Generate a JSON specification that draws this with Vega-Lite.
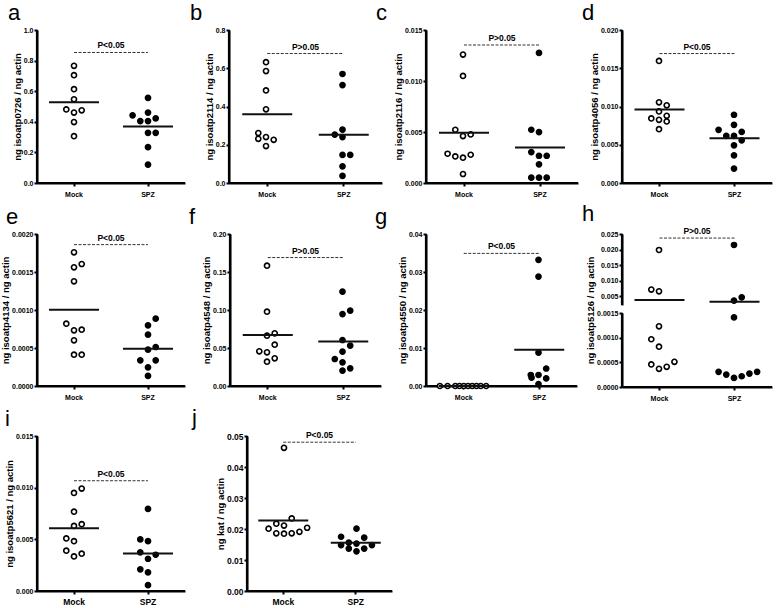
{
"$schema": "https://vega.github.io/schema/vega-lite/v6.json",
"padding": {"left": 0, "top": 2, "right": 2, "bottom": 0},
"datasets": {
"pts": [
{"p":"a","g":"Mock","v":0.766,"c":0},{"p":"a","g":"Mock","v":0.705,"c":0},{"p":"a","g":"Mock","v":0.613,"c":0},{"p":"a","g":"Mock","v":0.547,"c":0},{"p":"a","g":"Mock","v":0.481,"c":-1},{"p":"a","g":"Mock","v":0.475,"c":1},{"p":"a","g":"Mock","v":0.46,"c":0},{"p":"a","g":"Mock","v":0.398,"c":0},{"p":"a","g":"Mock","v":0.306,"c":0},
{"p":"a","g":"SPZ","v":0.556,"c":0},{"p":"a","g":"SPZ","v":0.46,"c":0},{"p":"a","g":"SPZ","v":0.442,"c":-2},{"p":"a","g":"SPZ","v":0.405,"c":-1},{"p":"a","g":"SPZ","v":0.405,"c":0},{"p":"a","g":"SPZ","v":0.422,"c":1},{"p":"a","g":"SPZ","v":0.328,"c":0},{"p":"a","g":"SPZ","v":0.328,"c":1},{"p":"a","g":"SPZ","v":0.234,"c":0},{"p":"a","g":"SPZ","v":0.12,"c":0},
{"p":"b","g":"Mock","v":0.632,"c":0},{"p":"b","g":"Mock","v":0.585,"c":0},{"p":"b","g":"Mock","v":0.484,"c":0},{"p":"b","g":"Mock","v":0.385,"c":0},{"p":"b","g":"Mock","v":0.261,"c":-1},{"p":"b","g":"Mock","v":0.231,"c":-1},{"p":"b","g":"Mock","v":0.24,"c":0},{"p":"b","g":"Mock","v":0.226,"c":1},{"p":"b","g":"Mock","v":0.193,"c":0},
{"p":"b","g":"SPZ","v":0.57,"c":0},{"p":"b","g":"SPZ","v":0.512,"c":0},{"p":"b","g":"SPZ","v":0.279,"c":0},{"p":"b","g":"SPZ","v":0.253,"c":-1},{"p":"b","g":"SPZ","v":0.24,"c":0},{"p":"b","g":"SPZ","v":0.147,"c":0},{"p":"b","g":"SPZ","v":0.147,"c":1},{"p":"b","g":"SPZ","v":0.087,"c":0},{"p":"b","g":"SPZ","v":0.037,"c":0},
{"p":"c","g":"Mock","v":0.01259,"c":0},{"p":"c","g":"Mock","v":0.0105,"c":0},{"p":"c","g":"Mock","v":0.00522,"c":-1},{"p":"c","g":"Mock","v":0.0046,"c":0},{"p":"c","g":"Mock","v":0.00476,"c":1},{"p":"c","g":"Mock","v":0.00287,"c":-2},{"p":"c","g":"Mock","v":0.00261,"c":-1},{"p":"c","g":"Mock","v":0.00248,"c":0},{"p":"c","g":"Mock","v":0.00277,"c":1},{"p":"c","g":"Mock","v":0.00088,"c":0},
{"p":"c","g":"SPZ","v":0.01275,"c":0},{"p":"c","g":"SPZ","v":0.00522,"c":-1},{"p":"c","g":"SPZ","v":0.00499,"c":0},{"p":"c","g":"SPZ","v":0.00303,"c":-1},{"p":"c","g":"SPZ","v":0.00267,"c":0},{"p":"c","g":"SPZ","v":0.00267,"c":1},{"p":"c","g":"SPZ","v":0.00183,"c":0},{"p":"c","g":"SPZ","v":0.00052,"c":-1},{"p":"c","g":"SPZ","v":0.00052,"c":0},{"p":"c","g":"SPZ","v":0.00052,"c":1},
{"p":"d","g":"Mock","v":0.01596,"c":0},{"p":"d","g":"Mock","v":0.01055,"c":0},{"p":"d","g":"Mock","v":0.01015,"c":1},{"p":"d","g":"Mock","v":0.00936,"c":0},{"p":"d","g":"Mock","v":0.00844,"c":-1},{"p":"d","g":"Mock","v":0.00826,"c":0},{"p":"d","g":"Mock","v":0.00879,"c":1},{"p":"d","g":"Mock","v":0.00804,"c":1},{"p":"d","g":"Mock","v":0.00703,"c":0},
{"p":"d","g":"SPZ","v":0.00892,"c":0},{"p":"d","g":"SPZ","v":0.0076,"c":0},{"p":"d","g":"SPZ","v":0.00695,"c":-2},{"p":"d","g":"SPZ","v":0.00615,"c":-1},{"p":"d","g":"SPZ","v":0.00615,"c":0},{"p":"d","g":"SPZ","v":0.00668,"c":1},{"p":"d","g":"SPZ","v":0.00558,"c":1},{"p":"d","g":"SPZ","v":0.00492,"c":0},{"p":"d","g":"SPZ","v":0.0036,"c":0},{"p":"d","g":"SPZ","v":0.00189,"c":0},
{"p":"e","g":"Mock","v":0.001759,"c":0},{"p":"e","g":"Mock","v":0.001561,"c":0},{"p":"e","g":"Mock","v":0.001605,"c":1},{"p":"e","g":"Mock","v":0.001377,"c":0},{"p":"e","g":"Mock","v":0.00082,"c":-1},{"p":"e","g":"Mock","v":0.000732,"c":0},{"p":"e","g":"Mock","v":0.000741,"c":1},{"p":"e","g":"Mock","v":0.000601,"c":0},{"p":"e","g":"Mock","v":0.000412,"c":0},{"p":"e","g":"Mock","v":0.000412,"c":1},
{"p":"e","g":"SPZ","v":0.000886,"c":1},{"p":"e","g":"SPZ","v":0.000798,"c":0},{"p":"e","g":"SPZ","v":0.000675,"c":0},{"p":"e","g":"SPZ","v":0.000513,"c":1},{"p":"e","g":"SPZ","v":0.000478,"c":0},{"p":"e","g":"SPZ","v":0.000338,"c":-1},{"p":"e","g":"SPZ","v":0.000338,"c":1},{"p":"e","g":"SPZ","v":0.000246,"c":0},{"p":"e","g":"SPZ","v":0.000132,"c":0},
{"p":"f","g":"Mock","v":0.1583,"c":0},{"p":"f","g":"Mock","v":0.0978,"c":0},{"p":"f","g":"Mock","v":0.0662,"c":0},{"p":"f","g":"Mock","v":0.0693,"c":1},{"p":"f","g":"Mock","v":0.0544,"c":1},{"p":"f","g":"Mock","v":0.0456,"c":-1},{"p":"f","g":"Mock","v":0.0443,"c":0},{"p":"f","g":"Mock","v":0.0364,"c":1},{"p":"f","g":"Mock","v":0.032,"c":0},
{"p":"f","g":"SPZ","v":0.1241,"c":0},{"p":"f","g":"SPZ","v":0.0947,"c":0},{"p":"f","g":"SPZ","v":0.0991,"c":1},{"p":"f","g":"SPZ","v":0.0605,"c":0},{"p":"f","g":"SPZ","v":0.0531,"c":1},{"p":"f","g":"SPZ","v":0.0452,"c":0},{"p":"f","g":"SPZ","v":0.0355,"c":-1},{"p":"f","g":"SPZ","v":0.0311,"c":0},{"p":"f","g":"SPZ","v":0.0202,"c":0},{"p":"f","g":"SPZ","v":0.0232,"c":1},
{"p":"g","g":"Mock","v":0,"c":-3},{"p":"g","g":"Mock","v":0,"c":-2},{"p":"g","g":"Mock","v":0,"c":-1},{"p":"g","g":"Mock","v":0,"c":-0.45},{"p":"g","g":"Mock","v":0,"c":0.1},{"p":"g","g":"Mock","v":0,"c":0.65},{"p":"g","g":"Mock","v":0,"c":1.2},{"p":"g","g":"Mock","v":0,"c":1.75},{"p":"g","g":"Mock","v":0,"c":2.3},{"p":"g","g":"Mock","v":0,"c":3},
{"p":"g","g":"SPZ","v":0.0332,"c":0},{"p":"g","g":"SPZ","v":0.0288,"c":0},{"p":"g","g":"SPZ","v":0.00877,"c":0},{"p":"g","g":"SPZ","v":0.0046,"c":1},{"p":"g","g":"SPZ","v":0.0029,"c":-1},{"p":"g","g":"SPZ","v":0.0022,"c":-0.9},{"p":"g","g":"SPZ","v":0.0029,"c":0},{"p":"g","g":"SPZ","v":0.002,"c":1},{"p":"g","g":"SPZ","v":0.0005,"c":0},
{"p":"h","g":"Mock","v":0.01987,"c":0},{"p":"h","g":"Mock","v":0.00714,"c":-1},{"p":"h","g":"Mock","v":0.0066,"c":0},{"p":"h","g":"Mock","v":0.00123,"c":0},{"p":"h","g":"Mock","v":0.000968,"c":-1},{"p":"h","g":"Mock","v":0.000818,"c":0},{"p":"h","g":"Mock","v":0.000457,"c":-1},{"p":"h","g":"Mock","v":0.000368,"c":0},{"p":"h","g":"Mock","v":0.000409,"c":1},{"p":"h","g":"Mock","v":0.000511,"c":2},
{"p":"h","g":"SPZ","v":0.02147,"c":0},{"p":"h","g":"SPZ","v":0.00361,"c":0},{"p":"h","g":"SPZ","v":0.00468,"c":1},{"p":"h","g":"SPZ","v":0.00141,"c":0},{"p":"h","g":"SPZ","v":0.000307,"c":-2},{"p":"h","g":"SPZ","v":0.000252,"c":-1},{"p":"h","g":"SPZ","v":0.000184,"c":0},{"p":"h","g":"SPZ","v":0.000218,"c":1},{"p":"h","g":"SPZ","v":0.000273,"c":2},{"p":"h","g":"SPZ","v":0.000307,"c":3},
{"p":"i","g":"Mock","v":0.00991,"c":1},{"p":"i","g":"Mock","v":0.00949,"c":0},{"p":"i","g":"Mock","v":0.00768,"c":0},{"p":"i","g":"Mock","v":0.0063,"c":0},{"p":"i","g":"Mock","v":0.00647,"c":1},{"p":"i","g":"Mock","v":0.00509,"c":-1},{"p":"i","g":"Mock","v":0.00482,"c":0},{"p":"i","g":"Mock","v":0.0039,"c":-1},{"p":"i","g":"Mock","v":0.00361,"c":1},{"p":"i","g":"Mock","v":0.00335,"c":0},
{"p":"i","g":"SPZ","v":0.00794,"c":0},{"p":"i","g":"SPZ","v":0.00499,"c":-1},{"p":"i","g":"SPZ","v":0.00482,"c":0},{"p":"i","g":"SPZ","v":0.00374,"c":-1},{"p":"i","g":"SPZ","v":0.00351,"c":1},{"p":"i","g":"SPZ","v":0.00312,"c":0},{"p":"i","g":"SPZ","v":0.0021,"c":-1},{"p":"i","g":"SPZ","v":0.0018,"c":0},{"p":"i","g":"SPZ","v":0.00056,"c":0},
{"p":"j","g":"Mock","v":0.0462,"c":0},{"p":"j","g":"Mock","v":0.0234,"c":1},{"p":"j","g":"Mock","v":0.0217,"c":-1},{"p":"j","g":"Mock","v":0.0211,"c":0},{"p":"j","g":"Mock","v":0.0201,"c":-2},{"p":"j","g":"Mock","v":0.0204,"c":3},{"p":"j","g":"Mock","v":0.0186,"c":-1},{"p":"j","g":"Mock","v":0.0185,"c":0},{"p":"j","g":"Mock","v":0.0186,"c":1},{"p":"j","g":"Mock","v":0.0191,"c":2},
{"p":"j","g":"SPZ","v":0.0201,"c":0},{"p":"j","g":"SPZ","v":0.0175,"c":-2},{"p":"j","g":"SPZ","v":0.0172,"c":1},{"p":"j","g":"SPZ","v":0.0156,"c":-1},{"p":"j","g":"SPZ","v":0.0153,"c":0},{"p":"j","g":"SPZ","v":0.0148,"c":-2},{"p":"j","g":"SPZ","v":0.0148,"c":2},{"p":"j","g":"SPZ","v":0.0137,"c":-1},{"p":"j","g":"SPZ","v":0.0137,"c":1},{"p":"j","g":"SPZ","v":0.0128,"c":0}
],
"sig": [
{"p":"a","v":0.853,"t":"P<0.05"},{"p":"b","v":0.677,"t":"P>0.05"},{"p":"c","v":0.01353,"t":"P>0.05"},{"p":"d","v":0.01692,"t":"P<0.05"},{"p":"e","v":0.00186,"t":"P<0.05"},{"p":"f","v":0.169,"t":"P>0.05"},{"p":"g","v":0.0349,"t":"P<0.05"},{"p":"h","v":0.0237,"t":"P>0.05"},{"p":"i","v":0.01067,"t":"P<0.05"},{"p":"j","v":0.048,"t":"P<0.05"}
],
"ax": [
{"p":"a","v":0,"top":1},{"p":"b","v":0,"top":0.8},{"p":"c","v":0,"top":0.015},{"p":"d","v":0,"top":0.02},{"p":"e","v":0,"top":0.002},{"p":"f","v":0,"top":0.2},{"p":"g","v":0,"top":0.04},{"p":"hu","v":0.0022,"top":0.025},{"p":"hl","v":0,"top":0.0015},{"p":"i","v":0,"top":0.015},{"p":"j","v":0,"top":0.05}
]
},
"vconcat": [
{"hconcat": [
{"width":148,"height":153,"title":{"text":"a","dx":-29},
 "encoding":{"x":{"field":"g","type":"nominal","scale":{"domain":["Mock","SPZ"],"paddingInner":0,"paddingOuter":0},"axis":{"title":null}},
  "y":{"field":"v","type":"quantitative","scale":{"domain":[0,1],"nice":false},"axis":{"title":"ng isoatp0726 / ng actin","values":[0,0.2,0.4,0.6,0.8,1],"format":".1f"}}},
 "layer":[
  {"data":{"name":"ax"},"transform":[{"filter":"datum.p=='a'"}],"mark":{"type":"rule","color":"#000000","strokeWidth":2.2},"encoding":{"x":{"datum":"Mock","type":"nominal","bandPosition":0},"y2":{"field":"top"}}},
  {"data":{"name":"ax"},"transform":[{"filter":"datum.p=='a'"}],"mark":{"type":"rule","color":"#000000","strokeWidth":2.2},"encoding":{"x":{"datum":"Mock","type":"nominal","bandPosition":0},"x2":{"datum":"SPZ"}}},
  {"data":{"name":"ax"},"transform":[{"filter":"datum.p=='a'"}],"mark":{"type":"rule","color":"#000000","strokeWidth":2.2},"encoding":{"x":{"datum":"SPZ","type":"nominal","bandPosition":1},"x2":{"datum":"Mock"}}},
  {"data":{"name":"pts"},"transform":[{"filter":"datum.p=='a'"}],"mark":{"type":"circle","size":26,"stroke":"#000000","strokeWidth":1.6,"opacity":1},"encoding":{"xOffset":{"field":"c","type":"quantitative","scale":{"domain":[-4.8,4.8]}},"fill":{"field":"g","type":"nominal","scale":{"domain":["Mock","SPZ"],"range":["#ffffff","#000000"]},"legend":null}}},
  {"data":{"name":"pts"},"transform":[{"filter":"datum.p=='a'"},{"aggregate":[{"op":"mean","field":"v","as":"v"}],"groupby":["g"]}],"mark":{"type":"tick","color":"#111111","thickness":2,"size":50,"opacity":1}},
  {"data":{"name":"sig"},"transform":[{"filter":"datum.p=='a'"}],"mark":{"type":"rule","color":"#333333","strokeDash":[3,1.5],"strokeWidth":1},"encoding":{"x":{"datum":"Mock","type":"nominal"},"x2":{"datum":"SPZ"}}},
  {"data":{"name":"sig"},"transform":[{"filter":"datum.p=='a'"}],"mark":{"type":"text","fontSize":8.5,"fontWeight":"bold","baseline":"bottom","dy":-2,"color":"#000000"},"encoding":{"x":{"datum":"Mock","type":"nominal","bandPosition":1},"text":{"field":"t","type":"nominal"}}}
 ]},
{"width":153,"height":153,"title":{"text":"b","dx":-39},
 "encoding":{"x":{"field":"g","type":"nominal","scale":{"domain":["Mock","SPZ"],"paddingInner":0,"paddingOuter":0},"axis":{"title":null}},
  "y":{"field":"v","type":"quantitative","scale":{"domain":[0,0.8],"nice":false},"axis":{"title":"ng isoatp2114 / ng actin","values":[0,0.2,0.4,0.6,0.8],"format":".1f"}}},
 "layer":[
  {"data":{"name":"ax"},"transform":[{"filter":"datum.p=='b'"}],"mark":{"type":"rule","color":"#000000","strokeWidth":2.2},"encoding":{"x":{"datum":"Mock","type":"nominal","bandPosition":0},"y2":{"field":"top"}}},
  {"data":{"name":"ax"},"transform":[{"filter":"datum.p=='b'"}],"mark":{"type":"rule","color":"#000000","strokeWidth":2.2},"encoding":{"x":{"datum":"Mock","type":"nominal","bandPosition":0},"x2":{"datum":"SPZ"}}},
  {"data":{"name":"ax"},"transform":[{"filter":"datum.p=='b'"}],"mark":{"type":"rule","color":"#000000","strokeWidth":2.2},"encoding":{"x":{"datum":"SPZ","type":"nominal","bandPosition":1},"x2":{"datum":"Mock"}}},
  {"data":{"name":"pts"},"transform":[{"filter":"datum.p=='b'"}],"mark":{"type":"circle","size":26,"stroke":"#000000","strokeWidth":1.6,"opacity":1},"encoding":{"xOffset":{"field":"c","type":"quantitative","scale":{"domain":[-4.8,4.8]}},"fill":{"field":"g","type":"nominal","scale":{"domain":["Mock","SPZ"],"range":["#ffffff","#000000"]},"legend":null}}},
  {"data":{"name":"pts"},"transform":[{"filter":"datum.p=='b'"},{"aggregate":[{"op":"mean","field":"v","as":"v"}],"groupby":["g"]}],"mark":{"type":"tick","color":"#111111","thickness":2,"size":50,"opacity":1}},
  {"data":{"name":"sig"},"transform":[{"filter":"datum.p=='b'"}],"mark":{"type":"rule","color":"#333333","strokeDash":[3,1.5],"strokeWidth":1},"encoding":{"x":{"datum":"Mock","type":"nominal"},"x2":{"datum":"SPZ"}}},
  {"data":{"name":"sig"},"transform":[{"filter":"datum.p=='b'"}],"mark":{"type":"text","fontSize":8.5,"fontWeight":"bold","baseline":"bottom","dy":-2,"color":"#000000"},"encoding":{"x":{"datum":"Mock","type":"nominal","bandPosition":1},"text":{"field":"t","type":"nominal"}}}
 ]},
{"width":152,"height":153,"title":{"text":"c","dx":-50},
 "encoding":{"x":{"field":"g","type":"nominal","scale":{"domain":["Mock","SPZ"],"paddingInner":0,"paddingOuter":0},"axis":{"title":null}},
  "y":{"field":"v","type":"quantitative","scale":{"domain":[0,0.015],"nice":false},"axis":{"title":"ng isoatp2116 / ng actin","values":[0,0.005,0.01,0.015],"format":".3f"}}},
 "layer":[
  {"data":{"name":"ax"},"transform":[{"filter":"datum.p=='c'"}],"mark":{"type":"rule","color":"#000000","strokeWidth":2.2},"encoding":{"x":{"datum":"Mock","type":"nominal","bandPosition":0},"y2":{"field":"top"}}},
  {"data":{"name":"ax"},"transform":[{"filter":"datum.p=='c'"}],"mark":{"type":"rule","color":"#000000","strokeWidth":2.2},"encoding":{"x":{"datum":"Mock","type":"nominal","bandPosition":0},"x2":{"datum":"SPZ"}}},
  {"data":{"name":"ax"},"transform":[{"filter":"datum.p=='c'"}],"mark":{"type":"rule","color":"#000000","strokeWidth":2.2},"encoding":{"x":{"datum":"SPZ","type":"nominal","bandPosition":1},"x2":{"datum":"Mock"}}},
  {"data":{"name":"pts"},"transform":[{"filter":"datum.p=='c'"}],"mark":{"type":"circle","size":26,"stroke":"#000000","strokeWidth":1.6,"opacity":1},"encoding":{"xOffset":{"field":"c","type":"quantitative","scale":{"domain":[-4.8,4.8]}},"fill":{"field":"g","type":"nominal","scale":{"domain":["Mock","SPZ"],"range":["#ffffff","#000000"]},"legend":null}}},
  {"data":{"name":"pts"},"transform":[{"filter":"datum.p=='c'"},{"aggregate":[{"op":"mean","field":"v","as":"v"}],"groupby":["g"]}],"mark":{"type":"tick","color":"#111111","thickness":2,"size":50,"opacity":1}},
  {"data":{"name":"sig"},"transform":[{"filter":"datum.p=='c'"}],"mark":{"type":"rule","color":"#333333","strokeDash":[3,1.5],"strokeWidth":1},"encoding":{"x":{"datum":"Mock","type":"nominal"},"x2":{"datum":"SPZ"}}},
  {"data":{"name":"sig"},"transform":[{"filter":"datum.p=='c'"}],"mark":{"type":"text","fontSize":8.5,"fontWeight":"bold","baseline":"bottom","dy":-2,"color":"#000000"},"encoding":{"x":{"datum":"Mock","type":"nominal","bandPosition":1},"text":{"field":"t","type":"nominal"}}}
 ]},
{"width":150,"height":153,"title":{"text":"d","dx":-40},
 "encoding":{"x":{"field":"g","type":"nominal","scale":{"domain":["Mock","SPZ"],"paddingInner":0,"paddingOuter":0},"axis":{"title":null}},
  "y":{"field":"v","type":"quantitative","scale":{"domain":[0,0.02],"nice":false},"axis":{"title":"ng isoatp4056 / ng actin","values":[0,0.005,0.01,0.015,0.02],"format":".3f"}}},
 "layer":[
  {"data":{"name":"ax"},"transform":[{"filter":"datum.p=='d'"}],"mark":{"type":"rule","color":"#000000","strokeWidth":2.2},"encoding":{"x":{"datum":"Mock","type":"nominal","bandPosition":0},"y2":{"field":"top"}}},
  {"data":{"name":"ax"},"transform":[{"filter":"datum.p=='d'"}],"mark":{"type":"rule","color":"#000000","strokeWidth":2.2},"encoding":{"x":{"datum":"Mock","type":"nominal","bandPosition":0},"x2":{"datum":"SPZ"}}},
  {"data":{"name":"ax"},"transform":[{"filter":"datum.p=='d'"}],"mark":{"type":"rule","color":"#000000","strokeWidth":2.2},"encoding":{"x":{"datum":"SPZ","type":"nominal","bandPosition":1},"x2":{"datum":"Mock"}}},
  {"data":{"name":"pts"},"transform":[{"filter":"datum.p=='d'"}],"mark":{"type":"circle","size":26,"stroke":"#000000","strokeWidth":1.6,"opacity":1},"encoding":{"xOffset":{"field":"c","type":"quantitative","scale":{"domain":[-4.8,4.8]}},"fill":{"field":"g","type":"nominal","scale":{"domain":["Mock","SPZ"],"range":["#ffffff","#000000"]},"legend":null}}},
  {"data":{"name":"pts"},"transform":[{"filter":"datum.p=='d'"},{"aggregate":[{"op":"mean","field":"v","as":"v"}],"groupby":["g"]}],"mark":{"type":"tick","color":"#111111","thickness":2,"size":50,"opacity":1}},
  {"data":{"name":"sig"},"transform":[{"filter":"datum.p=='d'"}],"mark":{"type":"rule","color":"#333333","strokeDash":[3,1.5],"strokeWidth":1},"encoding":{"x":{"datum":"Mock","type":"nominal"},"x2":{"datum":"SPZ"}}},
  {"data":{"name":"sig"},"transform":[{"filter":"datum.p=='d'"}],"mark":{"type":"text","fontSize":8.5,"fontWeight":"bold","baseline":"bottom","dy":-2,"color":"#000000"},"encoding":{"x":{"datum":"Mock","type":"nominal","bandPosition":1},"text":{"field":"t","type":"nominal"}}}
 ]}
], "bounds":"flush", "spacing":44},
{"hconcat": [
{"width":148,"height":152,"title":{"text":"e","dx":-31},
 "encoding":{"x":{"field":"g","type":"nominal","scale":{"domain":["Mock","SPZ"],"paddingInner":0,"paddingOuter":0},"axis":{"title":null}},
  "y":{"field":"v","type":"quantitative","scale":{"domain":[0,0.002],"nice":false},"axis":{"title":"ng isoatp4134 / ng actin","values":[0,0.0005,0.001,0.0015,0.002],"format":".4f"}}},
 "layer":[
  {"data":{"name":"ax"},"transform":[{"filter":"datum.p=='e'"}],"mark":{"type":"rule","color":"#000000","strokeWidth":2.2},"encoding":{"x":{"datum":"Mock","type":"nominal","bandPosition":0},"y2":{"field":"top"}}},
  {"data":{"name":"ax"},"transform":[{"filter":"datum.p=='e'"}],"mark":{"type":"rule","color":"#000000","strokeWidth":2.2},"encoding":{"x":{"datum":"Mock","type":"nominal","bandPosition":0},"x2":{"datum":"SPZ"}}},
  {"data":{"name":"ax"},"transform":[{"filter":"datum.p=='e'"}],"mark":{"type":"rule","color":"#000000","strokeWidth":2.2},"encoding":{"x":{"datum":"SPZ","type":"nominal","bandPosition":1},"x2":{"datum":"Mock"}}},
  {"data":{"name":"pts"},"transform":[{"filter":"datum.p=='e'"}],"mark":{"type":"circle","size":26,"stroke":"#000000","strokeWidth":1.6,"opacity":1},"encoding":{"xOffset":{"field":"c","type":"quantitative","scale":{"domain":[-4.8,4.8]}},"fill":{"field":"g","type":"nominal","scale":{"domain":["Mock","SPZ"],"range":["#ffffff","#000000"]},"legend":null}}},
  {"data":{"name":"pts"},"transform":[{"filter":"datum.p=='e'"},{"aggregate":[{"op":"mean","field":"v","as":"v"}],"groupby":["g"]}],"mark":{"type":"tick","color":"#111111","thickness":2,"size":50,"opacity":1}},
  {"data":{"name":"sig"},"transform":[{"filter":"datum.p=='e'"}],"mark":{"type":"rule","color":"#333333","strokeDash":[3,1.5],"strokeWidth":1},"encoding":{"x":{"datum":"Mock","type":"nominal"},"x2":{"datum":"SPZ"}}},
  {"data":{"name":"sig"},"transform":[{"filter":"datum.p=='e'"}],"mark":{"type":"text","fontSize":8.5,"fontWeight":"bold","baseline":"bottom","dy":-2,"color":"#000000"},"encoding":{"x":{"datum":"Mock","type":"nominal","bandPosition":1},"text":{"field":"t","type":"nominal"}}}
 ]},
{"width":151,"height":152,"title":{"text":"f","dx":-41},
 "encoding":{"x":{"field":"g","type":"nominal","scale":{"domain":["Mock","SPZ"],"paddingInner":0,"paddingOuter":0},"axis":{"title":null}},
  "y":{"field":"v","type":"quantitative","scale":{"domain":[0,0.2],"nice":false},"axis":{"title":"ng isoatp4548 / ng actin","values":[0,0.05,0.1,0.15,0.2],"format":".2f"}}},
 "layer":[
  {"data":{"name":"ax"},"transform":[{"filter":"datum.p=='f'"}],"mark":{"type":"rule","color":"#000000","strokeWidth":2.2},"encoding":{"x":{"datum":"Mock","type":"nominal","bandPosition":0},"y2":{"field":"top"}}},
  {"data":{"name":"ax"},"transform":[{"filter":"datum.p=='f'"}],"mark":{"type":"rule","color":"#000000","strokeWidth":2.2},"encoding":{"x":{"datum":"Mock","type":"nominal","bandPosition":0},"x2":{"datum":"SPZ"}}},
  {"data":{"name":"ax"},"transform":[{"filter":"datum.p=='f'"}],"mark":{"type":"rule","color":"#000000","strokeWidth":2.2},"encoding":{"x":{"datum":"SPZ","type":"nominal","bandPosition":1},"x2":{"datum":"Mock"}}},
  {"data":{"name":"pts"},"transform":[{"filter":"datum.p=='f'"}],"mark":{"type":"circle","size":26,"stroke":"#000000","strokeWidth":1.6,"opacity":1},"encoding":{"xOffset":{"field":"c","type":"quantitative","scale":{"domain":[-4.8,4.8]}},"fill":{"field":"g","type":"nominal","scale":{"domain":["Mock","SPZ"],"range":["#ffffff","#000000"]},"legend":null}}},
  {"data":{"name":"pts"},"transform":[{"filter":"datum.p=='f'"},{"aggregate":[{"op":"mean","field":"v","as":"v"}],"groupby":["g"]}],"mark":{"type":"tick","color":"#111111","thickness":2,"size":50,"opacity":1}},
  {"data":{"name":"sig"},"transform":[{"filter":"datum.p=='f'"}],"mark":{"type":"rule","color":"#333333","strokeDash":[3,1.5],"strokeWidth":1},"encoding":{"x":{"datum":"Mock","type":"nominal"},"x2":{"datum":"SPZ"}}},
  {"data":{"name":"sig"},"transform":[{"filter":"datum.p=='f'"}],"mark":{"type":"text","fontSize":8.5,"fontWeight":"bold","baseline":"bottom","dy":-2,"color":"#000000"},"encoding":{"x":{"datum":"Mock","type":"nominal","bandPosition":1},"text":{"field":"t","type":"nominal"}}}
 ]},
{"width":151,"height":152,"title":{"text":"g","dx":-51},
 "encoding":{"x":{"field":"g","type":"nominal","scale":{"domain":["Mock","SPZ"],"paddingInner":0,"paddingOuter":0},"axis":{"title":null}},
  "y":{"field":"v","type":"quantitative","scale":{"domain":[0,0.04],"nice":false},"axis":{"title":"ng isoatp4550 / ng actin","values":[0,0.01,0.02,0.03,0.04],"format":".2f"}}},
 "layer":[
  {"data":{"name":"ax"},"transform":[{"filter":"datum.p=='g'"}],"mark":{"type":"rule","color":"#000000","strokeWidth":2.2},"encoding":{"x":{"datum":"Mock","type":"nominal","bandPosition":0},"y2":{"field":"top"}}},
  {"data":{"name":"ax"},"transform":[{"filter":"datum.p=='g'"}],"mark":{"type":"rule","color":"#000000","strokeWidth":2.2},"encoding":{"x":{"datum":"Mock","type":"nominal","bandPosition":0},"x2":{"datum":"SPZ"}}},
  {"data":{"name":"ax"},"transform":[{"filter":"datum.p=='g'"}],"mark":{"type":"rule","color":"#000000","strokeWidth":2.2},"encoding":{"x":{"datum":"SPZ","type":"nominal","bandPosition":1},"x2":{"datum":"Mock"}}},
  {"data":{"name":"pts"},"transform":[{"filter":"datum.p=='g'"}],"mark":{"type":"circle","size":26,"stroke":"#000000","strokeWidth":1.6,"opacity":1},"encoding":{"xOffset":{"field":"c","type":"quantitative","scale":{"domain":[-4.8,4.8]}},"fill":{"field":"g","type":"nominal","scale":{"domain":["Mock","SPZ"],"range":["#ffffff","#000000"]},"legend":null}}},
  {"data":{"name":"pts"},"transform":[{"filter":"datum.p=='g'"},{"aggregate":[{"op":"mean","field":"v","as":"v"}],"groupby":["g"]}],"mark":{"type":"tick","color":"#111111","thickness":2,"size":50,"opacity":1}},
  {"data":{"name":"sig"},"transform":[{"filter":"datum.p=='g'"}],"mark":{"type":"rule","color":"#333333","strokeDash":[3,1.5],"strokeWidth":1},"encoding":{"x":{"datum":"Mock","type":"nominal"},"x2":{"datum":"SPZ"}}},
  {"data":{"name":"sig"},"transform":[{"filter":"datum.p=='g'"}],"mark":{"type":"text","fontSize":8.5,"fontWeight":"bold","baseline":"bottom","dy":-2,"color":"#000000"},"encoding":{"x":{"datum":"Mock","type":"nominal","bandPosition":1},"text":{"field":"t","type":"nominal"}}}
 ]},
{"vconcat":[
 {"width":150,"height":71,"title":{"text":"h","dx":-40},
  "encoding":{"x":{"field":"g","type":"nominal","scale":{"domain":["Mock","SPZ"],"paddingInner":0,"paddingOuter":0},"axis":null},
   "y":{"field":"v","type":"quantitative","scale":{"domain":[0.0022,0.025],"nice":false,"zero":false},"axis":{"title":null,"values":[0.005,0.01,0.015,0.02,0.025],"format":".3f"}}},
  "layer":[
   {"data":{"name":"ax"},"transform":[{"filter":"datum.p=='hu'"}],"mark":{"type":"rule","color":"#000000","strokeWidth":2.2},"encoding":{"x":{"datum":"Mock","type":"nominal","bandPosition":0},"y2":{"field":"top"}}},
   {"data":{"name":"pts"},"transform":[{"filter":"datum.p=='h' && datum.v>=0.002"}],"mark":{"type":"circle","size":26,"stroke":"#000000","strokeWidth":1.6,"opacity":1},"encoding":{"xOffset":{"field":"c","type":"quantitative","scale":{"domain":[-4.8,4.8]}},"fill":{"field":"g","type":"nominal","scale":{"domain":["Mock","SPZ"],"range":["#ffffff","#000000"]},"legend":null}}},
   {"data":{"name":"pts"},"transform":[{"filter":"datum.p=='h'"},{"aggregate":[{"op":"mean","field":"v","as":"v"}],"groupby":["g"]}],"mark":{"type":"tick","color":"#111111","thickness":2,"size":50,"opacity":1}},
   {"data":{"name":"sig"},"transform":[{"filter":"datum.p=='h'"}],"mark":{"type":"rule","color":"#333333","strokeDash":[3,1.5],"strokeWidth":1},"encoding":{"x":{"datum":"Mock","type":"nominal"},"x2":{"datum":"SPZ"}}},
   {"data":{"name":"sig"},"transform":[{"filter":"datum.p=='h'"}],"mark":{"type":"text","fontSize":8.5,"fontWeight":"bold","baseline":"bottom","dy":-2,"color":"#000000"},"encoding":{"x":{"datum":"Mock","type":"nominal","bandPosition":1},"text":{"field":"t","type":"nominal"}}}
  ]},
 {"width":150,"height":74,
  "encoding":{"x":{"field":"g","type":"nominal","scale":{"domain":["Mock","SPZ"],"paddingInner":0,"paddingOuter":0},"axis":{"title":null}},
   "y":{"field":"v","type":"quantitative","scale":{"domain":[0,0.0015],"nice":false},"axis":{"title":"ng isoatp5126 / ng actin","titleY":-3,"values":[0,0.0005,0.001,0.0015],"format":".4f"}}},
  "layer":[
   {"data":{"name":"ax"},"transform":[{"filter":"datum.p=='hl'"}],"mark":{"type":"rule","color":"#000000","strokeWidth":2.2},"encoding":{"x":{"datum":"Mock","type":"nominal","bandPosition":0},"y2":{"field":"top"}}},
   {"data":{"name":"ax"},"transform":[{"filter":"datum.p=='hl'"}],"mark":{"type":"rule","color":"#000000","strokeWidth":2.2},"encoding":{"x":{"datum":"Mock","type":"nominal","bandPosition":0},"x2":{"datum":"SPZ"}}},
   {"data":{"name":"ax"},"transform":[{"filter":"datum.p=='hl'"}],"mark":{"type":"rule","color":"#000000","strokeWidth":2.2},"encoding":{"x":{"datum":"SPZ","type":"nominal","bandPosition":1},"x2":{"datum":"Mock"}}},
   {"data":{"name":"pts"},"transform":[{"filter":"datum.p=='h' && datum.v<0.002"}],"mark":{"type":"circle","size":26,"stroke":"#000000","strokeWidth":1.6,"opacity":1},"encoding":{"xOffset":{"field":"c","type":"quantitative","scale":{"domain":[-4.8,4.8]}},"fill":{"field":"g","type":"nominal","scale":{"domain":["Mock","SPZ"],"range":["#ffffff","#000000"]},"legend":null}}}
  ]}
], "bounds":"flush", "spacing":8}
], "bounds":"flush", "spacing":45},
{"hconcat": [
{"width":148,"height":155,"title":{"text":"i","dx":-32},
 "encoding":{"x":{"field":"g","type":"nominal","scale":{"domain":["Mock","SPZ"],"paddingInner":0,"paddingOuter":0},"axis":{"title":null,"labelFontSize":8.5,"labelPadding":3}},
  "y":{"field":"v","type":"quantitative","scale":{"domain":[0,0.015],"nice":false},"axis":{"title":"ng isoatp5621 / ng actin","values":[0,0.005,0.01,0.015],"format":".3f"}}},
 "layer":[
  {"data":{"name":"ax"},"transform":[{"filter":"datum.p=='i'"}],"mark":{"type":"rule","color":"#000000","strokeWidth":2.2},"encoding":{"x":{"datum":"Mock","type":"nominal","bandPosition":0},"y2":{"field":"top"}}},
  {"data":{"name":"ax"},"transform":[{"filter":"datum.p=='i'"}],"mark":{"type":"rule","color":"#000000","strokeWidth":2.2},"encoding":{"x":{"datum":"Mock","type":"nominal","bandPosition":0},"x2":{"datum":"SPZ"}}},
  {"data":{"name":"ax"},"transform":[{"filter":"datum.p=='i'"}],"mark":{"type":"rule","color":"#000000","strokeWidth":2.2},"encoding":{"x":{"datum":"SPZ","type":"nominal","bandPosition":1},"x2":{"datum":"Mock"}}},
  {"data":{"name":"pts"},"transform":[{"filter":"datum.p=='i'"}],"mark":{"type":"circle","size":26,"stroke":"#000000","strokeWidth":1.6,"opacity":1},"encoding":{"xOffset":{"field":"c","type":"quantitative","scale":{"domain":[-4.8,4.8]}},"fill":{"field":"g","type":"nominal","scale":{"domain":["Mock","SPZ"],"range":["#ffffff","#000000"]},"legend":null}}},
  {"data":{"name":"pts"},"transform":[{"filter":"datum.p=='i'"},{"aggregate":[{"op":"mean","field":"v","as":"v"}],"groupby":["g"]}],"mark":{"type":"tick","color":"#111111","thickness":2,"size":50,"opacity":1}},
  {"data":{"name":"sig"},"transform":[{"filter":"datum.p=='i'"}],"mark":{"type":"rule","color":"#333333","strokeDash":[3,1.5],"strokeWidth":1},"encoding":{"x":{"datum":"Mock","type":"nominal"},"x2":{"datum":"SPZ"}}},
  {"data":{"name":"sig"},"transform":[{"filter":"datum.p=='i'"}],"mark":{"type":"text","fontSize":8.5,"fontWeight":"bold","baseline":"bottom","dy":-2,"color":"#000000"},"encoding":{"x":{"datum":"Mock","type":"nominal","bandPosition":1},"text":{"field":"t","type":"nominal"}}}
 ]},
{"width":145,"height":155,"title":{"text":"j","dx":-55},
 "encoding":{"x":{"field":"g","type":"nominal","scale":{"domain":["Mock","SPZ"],"paddingInner":0,"paddingOuter":0},"axis":{"title":null,"labelFontSize":8.5,"labelPadding":3}},
  "y":{"field":"v","type":"quantitative","scale":{"domain":[0,0.05],"nice":false},"axis":{"title":"ng kat / ng actin","values":[0,0.01,0.02,0.03,0.04,0.05],"format":".2f","labelFontSize":8.5}}},
 "layer":[
  {"data":{"name":"ax"},"transform":[{"filter":"datum.p=='j'"}],"mark":{"type":"rule","color":"#000000","strokeWidth":2.2},"encoding":{"x":{"datum":"Mock","type":"nominal","bandPosition":0},"y2":{"field":"top"}}},
  {"data":{"name":"ax"},"transform":[{"filter":"datum.p=='j'"}],"mark":{"type":"rule","color":"#000000","strokeWidth":2.2},"encoding":{"x":{"datum":"Mock","type":"nominal","bandPosition":0},"x2":{"datum":"SPZ"}}},
  {"data":{"name":"ax"},"transform":[{"filter":"datum.p=='j'"}],"mark":{"type":"rule","color":"#000000","strokeWidth":2.2},"encoding":{"x":{"datum":"SPZ","type":"nominal","bandPosition":1},"x2":{"datum":"Mock"}}},
  {"data":{"name":"pts"},"transform":[{"filter":"datum.p=='j'"}],"mark":{"type":"circle","size":26,"stroke":"#000000","strokeWidth":1.6,"opacity":1},"encoding":{"xOffset":{"field":"c","type":"quantitative","scale":{"domain":[-4.6,4.6]}},"fill":{"field":"g","type":"nominal","scale":{"domain":["Mock","SPZ"],"range":["#ffffff","#333333"]},"legend":null}}},
  {"data":{"name":"pts"},"transform":[{"filter":"datum.p=='j'"},{"aggregate":[{"op":"mean","field":"v","as":"v"}],"groupby":["g"]}],"mark":{"type":"tick","color":"#111111","thickness":2,"size":50,"opacity":1}},
  {"data":{"name":"sig"},"transform":[{"filter":"datum.p=='j'"}],"mark":{"type":"rule","color":"#333333","strokeDash":[3,1.5],"strokeWidth":1},"encoding":{"x":{"datum":"Mock","type":"nominal"},"x2":{"datum":"SPZ"}}},
  {"data":{"name":"sig"},"transform":[{"filter":"datum.p=='j'"}],"mark":{"type":"text","fontSize":8.5,"fontWeight":"bold","baseline":"bottom","dy":-2,"color":"#000000"},"encoding":{"x":{"datum":"Mock","type":"nominal","bandPosition":1},"text":{"field":"t","type":"nominal"}}}
 ]}
], "bounds":"flush", "spacing":62}
],
"spacing": 6,
"config": {
 "view": {"stroke": null},
 "font": "Liberation Sans",
 "axis": {"domain": true, "ticks": true, "domainColor":"#000000","domainWidth":2,"tickColor":"#000000","tickWidth":2,"tickSize":3,"labelFontWeight":"bold","labelFontSize":7,"labelColor":"#000000","titleFontWeight":"bold","titleFontSize":9.5,"titleColor":"#000000","grid":false,"labelPadding":1,"titlePadding":1},
 "axisX": {"labelAngle":0,"labelPadding":4},
 "title": {"fontSize":22,"fontWeight":"normal","anchor":"start","frame":"group","color":"#000000","offset":1}
}
}
